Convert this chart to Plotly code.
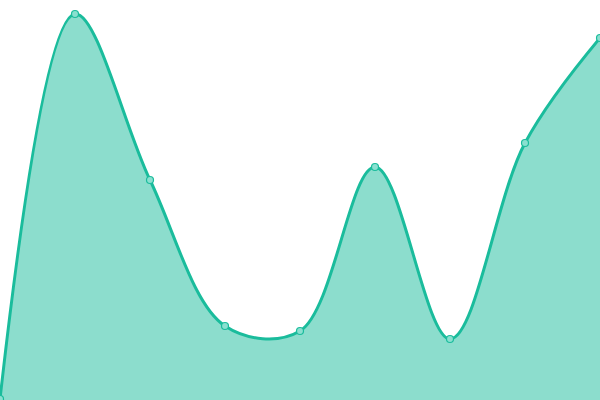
import plotly.graph_objects as go

# 9 points spread evenly across the width
labels = ["1", "2", "3", "4", "5", "6", "7", "8", "9"]
values = [1, 386, 220, 74, 69, 233, 61, 257, 362]

fig = go.Figure()
fig.add_trace(
    go.Scatter(
        x=list(range(len(labels))),
        y=values,
        mode="lines+markers",
        line=dict(color="#1abc9c", width=3, shape="spline", smoothing=1.0),
        fill="tozeroy",
        fillcolor="rgba(26, 188, 156, 0.5)",
        marker=dict(
            size=7,
            color="#8ae0d0",
            line=dict(color="#1abc9c", width=1.2),
        ),
        hoverinfo="skip",
    )
)

fig.update_layout(
    width=600,
    height=400,
    margin=dict(l=0, r=0, t=0, b=0),
    paper_bgcolor="white",
    plot_bgcolor="white",
    showlegend=False,
    xaxis=dict(range=[0, len(labels) - 1], visible=False, fixedrange=True),
    yaxis=dict(range=[0, 400], visible=False, fixedrange=True),
)

# drop the default body margin so the chart fills the window
fig.write_html(
    "out.html",
    config={"displayModeBar": False},
    post_script="document.body.style.margin='0';",
)
